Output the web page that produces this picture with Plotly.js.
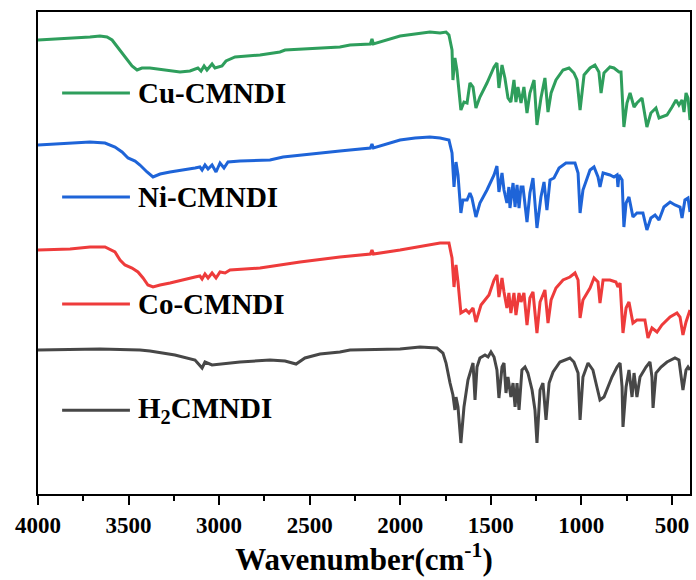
<!DOCTYPE html>
<html>
<head>
<meta charset="utf-8">
<script src="https://cdn.plot.ly/plotly-3.0.1.min.js"></script>
<style>html,body{margin:0;padding:0;background:#fff;}#chart{width:696px;height:580px;}</style>
</head>
<body>
<div id="chart"></div>
<script>
// Series names
const seriesNames = ["Cu-CMNDI", "Ni-CMNDI", "Co-CMNDI", "H<sub>2</sub>CMNDI"];

// Cu-CMNDI (offset transmittance, a.u.)
const cuWavenumber = [4000,3879,3713,3658,3619,3591,3558,3520,3481,3453,3426,3382,3299,3216,3161,3117,3100,3083,3067,3039,3023,2984,2962,2912,2774,2664,2636,2333,2277,2165,2156,2148,2001,1836,1780,1747,1731,1714,1709,1698,1687,1676,1665,1648,1631,1615,1598,1582,1560,1521,1482,1466,1455,1438,1422,1405,1389,1372,1361,1350,1333,1317,1300,1284,1261,1245,1223,1201,1184,1167,1140,1101,1068,1041,1024,1007,985,952,925,903,891,875,842,820,792,781,765,748,731,709,693,665,638,616,588,571,527,499,477,461,444,433,422,411,400];
const cuValues = [454,455,457,458,457,454,446,437,428,424,426,426,424,422,423,426,423,428,424,430,426,428,433,437,439,442,444,447,449,450,455,450,458,462,461,462,459,444,414,436,424,407,384,392,391,411,407,386,397,411,427,431,406,429,416,396,392,414,392,407,391,407,381,401,414,369,396,416,382,401,414,424,426,421,414,384,419,426,429,422,401,421,427,426,422,422,367,391,401,387,391,396,367,381,386,376,379,387,394,389,394,382,401,396,374];

// Ni-CMNDI
const niWavenumber = [4000,3879,3713,3630,3575,3536,3503,3464,3437,3398,3365,3326,3271,3133,3106,3094,3078,3061,3039,3017,2995,2973,2951,2885,2719,2647,2553,2333,2277,2165,2156,2148,2001,1918,1836,1780,1731,1714,1703,1692,1681,1665,1654,1631,1615,1604,1582,1560,1521,1482,1466,1455,1438,1427,1411,1400,1394,1377,1366,1355,1344,1333,1322,1300,1284,1267,1245,1223,1206,1190,1173,1151,1123,1085,1035,1018,1007,991,952,930,908,897,880,842,820,803,798,792,775,765,753,737,715,693,660,638,616,593,571,544,510,483,455,444,428,411,400];
const niValues = [349,350,352,351,347,342,336,333,329,322,317,320,322,326,327,324,329,325,329,322,331,326,332,333,334,337,339,343,344,346,350,346,354,356,357,356,354,341,307,332,319,281,294,294,301,296,277,291,304,319,328,302,321,304,291,307,286,311,287,309,286,307,307,272,301,316,266,297,312,284,314,316,326,331,331,321,281,304,324,327,317,307,321,319,317,319,307,319,314,267,291,297,277,281,281,264,276,279,274,287,292,289,287,276,294,296,282];

// Co-CMNDI
const coWavenumber = [4000,3823,3713,3630,3575,3547,3520,3481,3448,3420,3393,3365,3326,3271,3133,3106,3094,3078,3061,3039,3017,2995,2967,2940,2774,2664,2553,2333,2277,2165,2156,2148,2001,1836,1780,1731,1714,1703,1692,1681,1665,1637,1620,1598,1582,1554,1510,1482,1466,1455,1438,1427,1411,1400,1389,1372,1361,1344,1333,1317,1300,1284,1267,1245,1228,1201,1184,1167,1140,1101,1063,1035,1018,1007,991,952,930,908,897,880,842,809,798,786,770,753,737,715,693,649,632,610,582,555,510,472,455,439,422,400];
const coValues = [244,245,247,247,242,234,229,226,222,216,209,207,209,211,217,218,215,220,216,221,216,222,221,224,226,229,232,237,238,240,244,240,244,249,251,251,236,207,229,212,181,184,181,186,172,189,199,214,219,197,216,202,186,201,181,201,179,201,192,201,169,196,202,161,192,204,171,194,206,214,217,221,214,176,194,206,216,212,191,214,214,212,207,211,161,186,192,171,174,174,156,166,162,169,177,181,177,159,172,184];

// H2CMNDI
const h2Wavenumber = [4000,3768,3658,3437,3382,3244,3133,3094,3078,3039,2995,2885,2719,2636,2575,2526,2443,2333,2277,2001,1891,1797,1764,1747,1725,1709,1698,1692,1681,1665,1648,1626,1598,1587,1576,1560,1532,1515,1499,1482,1466,1455,1438,1427,1416,1405,1389,1377,1366,1355,1344,1328,1311,1295,1272,1256,1245,1228,1212,1195,1178,1156,1118,1063,1041,1018,1007,991,963,936,914,897,875,853,831,803,786,775,770,753,737,720,709,693,676,643,621,610,604,588,560,527,483,461,439,422,411,400];
const h2Values = [144,145,145,144,143,139,134,126,132,129,130,132,134,133,130,136,140,142,144,145,147,146,141,131,111,99,84,97,87,51,87,114,131,94,127,136,139,137,142,137,124,96,127,131,101,117,97,111,87,111,84,124,127,121,104,84,51,104,111,74,111,122,132,136,132,121,74,117,131,124,107,94,97,107,117,127,131,107,67,107,124,97,121,97,117,127,132,117,86,121,127,132,136,134,104,124,127,124];

// X tick labels
const xTickVals = [4000,3500,3000,2500,2000,1500,1000,500];
const xTickText = ["4000","3500","3000","2500","2000","1500","1000","500"];

const colors = ["#2E9E5C", "#1E64D8", "#EE3B3B", "#474747"];
const xs = [cuWavenumber, niWavenumber, coWavenumber, h2Wavenumber];
const ys = [cuValues, niValues, coValues, h2Values];

const traces = xs.map((x, i) => ({
  x: x, y: ys[i], type: "scatter", mode: "lines", name: seriesNames[i],
  line: {color: colors[i], width: 3}, showlegend: false, hoverinfo: "skip"
}));

const FONT = "'Liberation Serif', 'Times New Roman', serif";
const legendY = [0.832, 0.616, 0.394, 0.174];
const shapes = legendY.map((y, i) => ({
  type: "line", xref: "paper", yref: "paper", x0: 0.037, x1: 0.141, y0: y, y1: y,
  line: {color: colors[i], width: 3}
}));
const annotations = legendY.map((y, i) => ({
  xref: "paper", yref: "paper", x: 0.150, y: y, xanchor: "left", yanchor: "middle",
  text: "<b>" + seriesNames[i] + "</b>", showarrow: false,
  font: {family: FONT, size: 29, color: "#000"}
}));

const layout = {
  width: 696, height: 580,
  margin: {l: 38, r: 6, t: 12, b: 86},
  paper_bgcolor: "#ffffff", plot_bgcolor: "#ffffff",
  showlegend: false,
  xaxis: {
    range: [4000, 400], tickvals: xTickVals, ticktext: xTickText,
    ticks: "outside", ticklen: 9, tickwidth: 2, tickcolor: "#000",
    minor: {dtick: 250, tick0: 0, ticks: "outside", ticklen: 5, tickwidth: 2, tickcolor: "#000"},
    showline: true, linewidth: 2, linecolor: "#000", mirror: true,
    showgrid: false, zeroline: false,
    tickfont: {family: FONT, size: 23, color: "#000", weight: "bold"},
    title: {text: "<b>Wavenumber(cm<sup>-1</sup>)</b>", font: {family: FONT, size: 31, color: "#000"}, standoff: 11}
  },
  yaxis: {
    range: [0, 482], showticklabels: false, ticks: "",
    showline: true, linewidth: 2, linecolor: "#000", mirror: true,
    showgrid: false, zeroline: false
  },
  shapes: shapes,
  annotations: annotations
};

Plotly.newPlot("chart", traces, layout, {displayModeBar: false, staticPlot: true});
</script>
</body>
</html>
